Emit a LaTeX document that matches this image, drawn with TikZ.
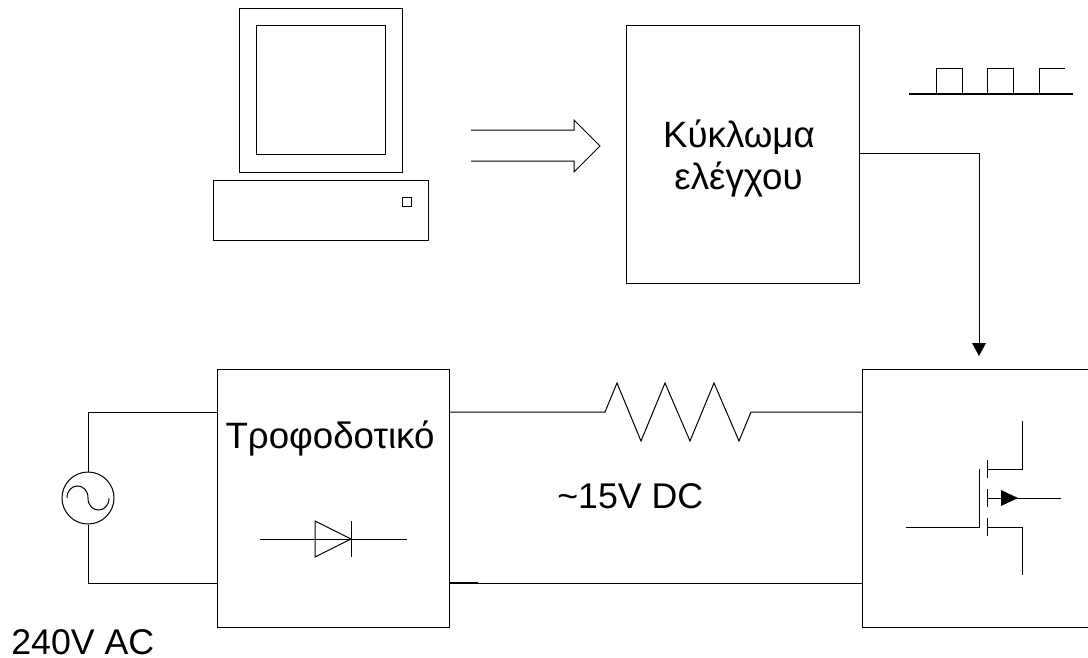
\documentclass[tikz,border=0pt]{standalone}
\usepackage{fontspec}
\setmainfont{Liberation Sans}
\begin{document}
\begin{tikzpicture}[x=0.75pt,y=-0.75pt,
  wire/.style={draw=black,line width=0.75pt,line join=miter},
  lab/.style={font=\fontsize{27.5}{32}\selectfont,inner sep=0pt,anchor=base},
  labw/.style={font=\fontsize{26.8}{32}\selectfont,inner sep=0pt,anchor=base west},
  tip/.style={fill=black,draw=none}]
\useasboundingbox (0,0) rectangle (1088,657);
% computer
\node[wire,minimum width=122.25pt,minimum height=123pt,inner sep=0pt,anchor=north west] (mon) at (239,8) {};
\node[wire,minimum width=96.75pt,minimum height=96.75pt,inner sep=0pt,anchor=north west] (scr) at (256,25) {};
\node[wire,minimum width=161.25pt,minimum height=45pt,inner sep=0pt,anchor=north west] (base) at (213,180) {};
\node[wire,minimum width=6.75pt,minimum height=6.75pt,inner sep=0pt,anchor=north west] (btn) at (402,197) {};
% wide arrow
\draw[wire] (471,130) -- (574,130) -- (574,120) -- (600,146) -- (574,172) -- (574,161) -- (471,161);
% control
\node[wire,minimum width=174.75pt,minimum height=193.5pt,inner sep=0pt,anchor=north west] (ctl) at (626,25) {};
\node[lab] (ctltext) at (739,147) {Κύκλωμα};
\node[lab] (ctltextb) at (738.5,189) {ελέγχου};
\coordinate (bend) at (979,153);
\coordinate (ctlout) at (859,153);
\draw[wire] (ctlout) -- (bend) -- (979,346);
\fill[tip] (972,343) -- (986,343) -- (979,356) -- cycle;
% pulses
\draw[line width=1.5pt] (909,94) -- (1073,94);
\draw[wire] (936,94) -- (936,68) -- (962,68) -- (962,94);
\draw[wire] (987,94) -- (987,68) -- (1013,68) -- (1013,94);
\draw[wire] (1039,94) -- (1039,68) -- (1065,68);
% power
\node[wire,minimum width=174pt,minimum height=193.5pt,anchor=north west,inner sep=0pt] (psu) at (217,369) {};
\node[lab] (psutext) at (330,448) {Τροφοδοτικό};
\node[wire,minimum width=174pt,minimum height=193.5pt,anchor=north west,inner sep=0pt] (sw) at (862,369) {};
% source
\node[wire,circle,minimum size=39pt,inner sep=0pt] (ac) at (88,498) {};
\draw[wire] (ac.north) -- (88,412) -- (217,412);
\draw[wire] (ac.south) -- (88,583) -- (217,583);
\draw[wire] (67,498) .. controls (67,482) and (88,482) .. (88,498) .. controls (88,514) and (109,514) .. (109,498);
% diode
\draw[wire] (260,539) -- (407,539);
\draw[wire] (315,521) -- (351,539) -- (315,557) -- cycle;
\draw[wire] (351,521) -- (351,557);
% resistor
\draw[wire] (449,412) -- (605,412) -- (617,383) -- (641,441) -- (665,383) -- (690,441) -- (714,383) -- (739,441) -- (751,412) -- (862,412);
\draw[wire] (449,583) -- (862,583);
\draw[line width=1.2pt] (449,583) -- (478,583);
\node[labw] (dc) at (557,508) {\textasciitilde15V DC};
\node[labw] (acl) at (11,654.5) {240V AC};
% mosfet
\draw[wire] (906,527) -- (979,527) -- (979,469);
\draw[wire] (987,460) -- (987,478);
\draw[wire] (987,489) -- (987,507);
\draw[wire] (987,518) -- (987,536);
\draw[wire] (987,469) -- (1022,469) -- (1022,421);
\draw[wire] (987,527) -- (1022,527) -- (1022,575);
\draw[wire] (987,498) -- (1061,498);
\fill[tip] (1001,490) -- (1018,498) -- (1001,506) -- cycle;
\end{tikzpicture}
\end{document}
